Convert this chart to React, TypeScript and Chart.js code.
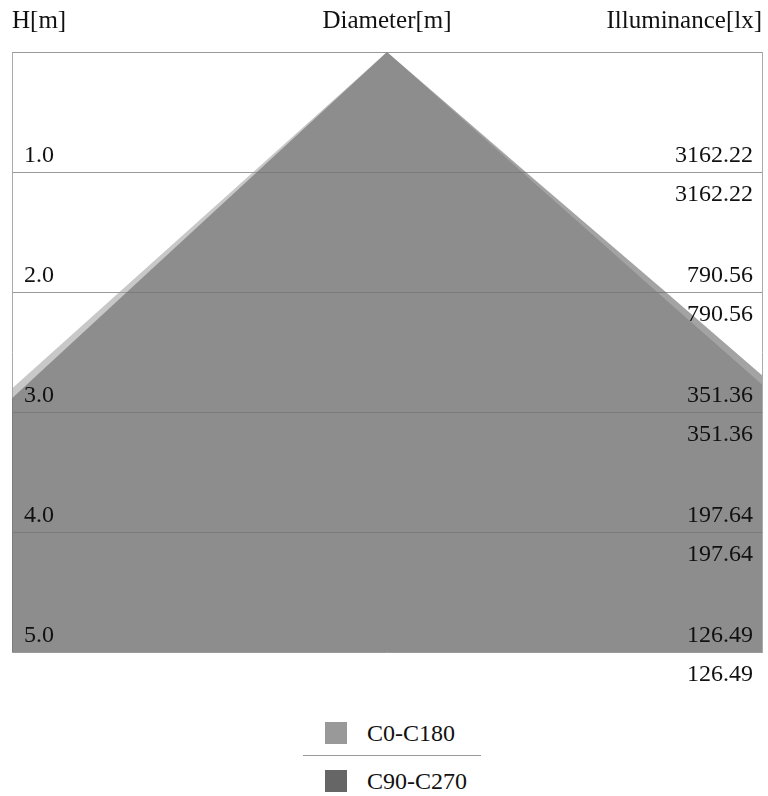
import { useEffect, useRef } from 'react';
import { Chart, registerables } from 'chart.js';

Chart.register(...registerables);

// ---- data ----
const heights = [1, 2, 3, 4, 5];
const heightLabels = ['1.0', '2.0', '3.0', '4.0', '5.0'];
const illuminanceC0C180 = [3162.22, 790.56, 351.36, 197.64, 126.49];
const illuminanceC90C270 = [3162.22, 790.56, 351.36, 197.64, 126.49];
// half-diameter (m) of the beam on each side at each height
const c0c180LeftRadius = [1.07, 2.14, 3.21, 4.28, 5.35];
const c0c180RightRadius = [1.08, 2.16, 3.25, 4.33, 5.41];
const c90c270LeftRadius = [1.04, 2.08, 3.12, 4.16, 5.2];
const c90c270RightRadius = [1.11, 2.23, 3.34, 4.46, 5.57];
const seriesNames = ['C0-C180', 'C90-C270'];
const headerLabels = ['H[m]', 'Diameter[m]', 'Illuminance[lx]'];
const diameterRange = [-3, 3];
const heightRange = [0, 5];

const FONT = '"Liberation Serif", "Times New Roman", serif';

function conePoints(left: number[], right: number[]) {
  const pts: { x: number; y: number }[] = [];
  for (let i = heights.length - 1; i >= 0; i--) pts.push({ x: -left[i], y: heights[i] });
  pts.push({ x: 0, y: heightRange[0] });
  for (let i = 0; i < heights.length; i++) pts.push({ x: right[i], y: heights[i] });
  return pts;
}

const headerPlugin = {
  id: 'headers',
  afterDraw(chart: any) {
    const { ctx, chartArea } = chart;
    ctx.save();
    ctx.font = `25px ${FONT}`;
    ctx.fillStyle = '#111';
    ctx.textBaseline = 'middle';
    const y = 21;
    ctx.textAlign = 'left';
    ctx.fillText(headerLabels[0], chartArea.left, y);
    ctx.textAlign = 'center';
    ctx.fillText(headerLabels[1], (chartArea.left + chartArea.right) / 2, y);
    ctx.textAlign = 'right';
    ctx.fillText(headerLabels[2], chartArea.right, y);
    ctx.restore();
  },
};

const zeroWidth = (scale: any) => {
  scale.width = 0;
};

export default function App() {
  const ref = useRef<HTMLCanvasElement | null>(null);

  useEffect(() => {
    document.body.style.margin = '0';
    if (!ref.current) return;
    const idx = (v: number) => heights.indexOf(v);
    const tickBase = {
      stepSize: 1,
      autoSkip: false,
      mirror: true,
      z: 1,
      color: '#111',
      font: { family: FONT, size: 24 },
    };
    const chart = new Chart(ref.current, {
      type: 'scatter',
      data: {
        datasets: [
          {
            label: seriesNames[1],
            data: conePoints(c90c270LeftRadius, c90c270RightRadius),
            showLine: true,
            fill: { value: heightRange[1] },
            backgroundColor: 'rgba(102,102,102,0.6)',
            borderColor: 'rgba(0,0,0,0)',
            borderWidth: 0,
            pointRadius: 0,
            order: 0,
          },
          {
            label: seriesNames[0],
            data: conePoints(c0c180LeftRadius, c0c180RightRadius),
            showLine: true,
            fill: { value: heightRange[1] },
            backgroundColor: 'rgba(153,153,153,0.54)',
            borderColor: 'rgba(0,0,0,0)',
            borderWidth: 0,
            pointRadius: 0,
            order: 1,
          },
        ],
      },
      options: {
        animation: false,
        responsive: false,
        events: [],
        layout: { padding: { top: 52, left: 12, right: 6, bottom: 48 } },
        plugins: { legend: { display: false }, tooltip: { enabled: false } },
        scales: {
          x: { type: 'linear', min: diameterRange[0], max: diameterRange[1], display: false },
          y: {
            type: 'linear',
            min: heightRange[0],
            max: heightRange[1],
            reverse: true,
            position: 'left',
            afterFit: zeroWidth,
            grid: { color: '#999', lineWidth: 1, drawTicks: false },
            border: { color: '#aaa', width: 1 },
            ticks: {
              ...tickBase,
              padding: 12,
              labelOffset: -16,
              callback: (v: any) => (idx(v) >= 0 ? heightLabels[idx(v)] : ''),
            },
          },
          yUpper: {
            type: 'linear',
            min: heightRange[0],
            max: heightRange[1],
            reverse: true,
            position: 'right',
            afterFit: zeroWidth,
            grid: { display: false, drawTicks: false },
            border: { color: '#aaa', width: 1 },
            ticks: {
              ...tickBase,
              padding: -9,
              labelOffset: -16,
              callback: (v: any) => (idx(v) >= 0 ? illuminanceC0C180[idx(v)].toFixed(2) : ''),
            },
          },
          yLower: {
            type: 'linear',
            min: heightRange[0],
            max: heightRange[1],
            reverse: true,
            position: 'right',
            afterFit: zeroWidth,
            grid: { display: false, drawTicks: false },
            border: { display: false },
            ticks: {
              ...tickBase,
              padding: -9,
              labelOffset: 23,
              callback: (v: any) => (idx(v) >= 0 ? illuminanceC90C270[idx(v)].toFixed(2) : ''),
            },
          },
        },
      } as any,
      plugins: [headerPlugin],
    });
    return () => chart.destroy();
  }, []);

  const swatch = (color: string) => (
    <span style={{ display: 'inline-block', width: 22, height: 22, background: color, marginRight: 20 }} />
  );
  const row: any = {
    display: 'flex',
    alignItems: 'center',
    height: 30,
    paddingLeft: 22,
    fontFamily: FONT,
    fontSize: 24,
    color: '#111',
  };

  return (
    <div style={{ width: 768 }}>
      <canvas ref={ref} width={768} height={700} style={{ display: 'block', width: 768, height: 700 }} />
      <div style={{ marginLeft: 303, width: 178, marginTop: 18 }}>
        <div style={row}>
          {swatch('#999999')}
          <span>{seriesNames[0]}</span>
        </div>
        <div style={{ height: 1, background: '#999', margin: '7px 0 10px 0' }} />
        <div style={row}>
          {swatch('#666666')}
          <span>{seriesNames[1]}</span>
        </div>
      </div>
    </div>
  );
}
